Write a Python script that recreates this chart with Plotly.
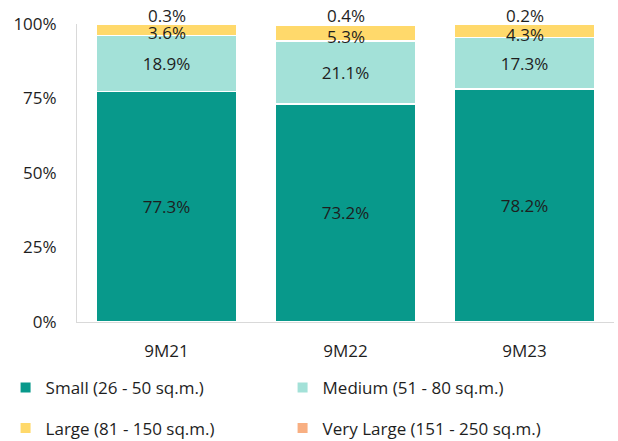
import plotly.graph_objects as go

categories = ["9M21", "9M22", "9M23"]
small = [77.3, 73.2, 78.2]
medium = [18.9, 21.1, 17.3]
large = [3.6, 5.3, 4.3]
very_large = [0.3, 0.4, 0.2]

names = ["Small (26 - 50 sq.m.)", "Medium (51 - 80 sq.m.)",
         "Large (81 - 150 sq.m.)", "Very Large (151 - 250 sq.m.)"]
colors = ["#08998B", "#A3E1D8", "#FFD96B", "#F8AF82"]
FONT = "Open Sans"
FS = 17
TXT = "#1E1E1E"

fig = go.Figure()
series = [small, medium, large, very_large]
legends = ["legend", "legend", "legend2", "legend2"]
for i, (vals, nm, col) in enumerate(zip(series, names, colors)):
    inside = i < 2
    fig.add_trace(go.Bar(
        x=categories, y=vals, name=nm, marker_color=col,
        marker_line=dict(color="white", width=1.5),
        text=[f"{v:.1f}%" for v in vals] if inside else None,
        textposition="inside" if inside else "none",
        insidetextanchor="middle",
        textfont=dict(family=FONT, size=FS, color=TXT),
        showlegend=False, hoverinfo="skip",
    ))
    # legend entries with small square symbols
    fig.add_trace(go.Scatter(
        x=[None], y=[None], mode="markers", name=nm,
        marker=dict(symbol="square", size=10, color=col),
        legend=legends[i], showlegend=True,
    ))

# labels for the thin segments
for c, s, m, l, v in zip(categories, small, medium, large, very_large):
    fig.add_annotation(x=c, y=s + m + l / 2, text=f"{l:.1f}%", showarrow=False,
                       yshift=-3, font=dict(family=FONT, size=FS, color=TXT))
    fig.add_annotation(x=c, y=s + m + l, text=f"{v:.1f}%", showarrow=False,
                       yanchor="bottom", yshift=-4,
                       font=dict(family=FONT, size=FS, color=TXT))

legend_common = dict(orientation="h", xanchor="left", yanchor="top",
                     traceorder="normal", entrywidth=232, entrywidthmode="pixels",
                     font=dict(family=FONT, size=FS, color=TXT), itemclick=False)
fig.update_layout(
    barmode="stack", bargap=0.21,
    width=618, height=441,
    margin=dict(l=77, r=4, t=24, b=119, autoexpand=False),
    plot_bgcolor="white", paper_bgcolor="white",
    font=dict(family=FONT, size=FS, color=TXT),
    legend=dict(x=-0.133, y=-0.161, **legend_common),
    legend2=dict(x=-0.133, y=-0.297, **legend_common),
)
fig.update_yaxes(range=[0, 100], tickvals=[0, 25, 50, 75, 100],
                 ticktext=["0%", "25%", "50%", "75%", "100%"],
                 showgrid=False, zeroline=False, showline=True, linecolor="#D9D9D9",
                 linewidth=1, ticklabelstandoff=16, automargin=False,
                 tickfont=dict(family=FONT, size=FS, color=TXT))
fig.update_xaxes(showline=True, linecolor="#D9D9D9", linewidth=1, ticklabelstandoff=14,
                 range=[-0.5, 2.5], automargin=False,
                 tickfont=dict(family=FONT, size=FS, color=TXT))

fig.write_html("out.html", config={"displayModeBar": False},
               post_script="document.body.style.margin='0';")
